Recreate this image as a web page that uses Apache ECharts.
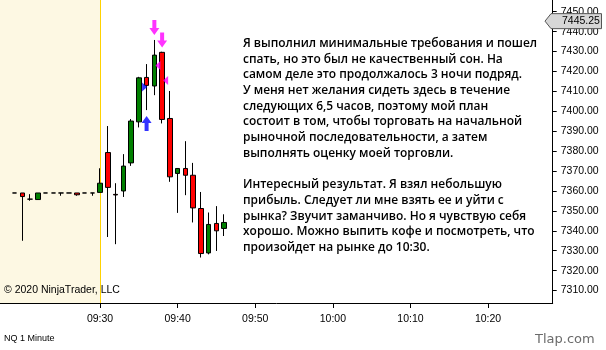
<!DOCTYPE html>
<html><head><meta charset="utf-8">
<script src="https://cdn.jsdelivr.net/npm/echarts@6/dist/echarts.min.js"></script>
<style>html,body{margin:0;padding:0;background:#fff}#c{width:606px;height:350px}</style>
</head><body><div id="c"></div>
<script>
// ---- data ----
const times  = ['09:19','09:20','09:21','09:22','09:23','09:24','09:25','09:26','09:27','09:28','09:29',
                '09:30','09:31','09:32','09:33','09:34','09:35','09:36','09:37','09:38','09:39','09:40',
                '09:41','09:42','09:43','09:44','09:45','09:46'];
const opens  = [7359.0,7359.0,7355.9,7355.7,7359.0,7359.0,7359.0,7359.0,7359.0,7359.0,7359.0,
                7359.3,7379.3,7358.3,7360.0,7374.1,7394.7,7417.0,7412.7,7429.6,7396.4,7368.8,
                7371.3,7367.9,7351.2,7328.9,7343.7,7341.2];
const closes = [7359.0,7357.2,7355.9,7359.0,7359.0,7359.0,7359.0,7359.0,7358.1,7359.0,7359.0,
                7363.9,7361.8,7358.0,7372.5,7395.1,7416.8,7413.0,7428.2,7395.9,7367.1,7371.3,
                7367.9,7351.5,7328.6,7343.2,7340.0,7344.2];
const lows   = [7359.0,7335.0,7355.1,7355.7,7359.0,7359.0,7357.6,7359.0,7357.6,7359.0,7357.6,
                7359.3,7336.9,7333.3,7357.0,7372.6,7391.9,7400.6,7408.1,7393.9,7364.6,7349.0,
                7357.9,7344.2,7326.6,7328.2,7329.9,7337.4];
const highs  = [7359.0,7359.0,7358.4,7359.0,7359.0,7359.0,7359.0,7359.0,7359.0,7359.0,7359.0,
                7371.4,7392.6,7363.9,7378.5,7396.1,7417.3,7423.7,7435.8,7429.9,7410.2,7371.5,
                7385.0,7374.1,7359.5,7349.2,7352.4,7348.3];
const yTicks = [7310,7320,7330,7340,7350,7360,7370,7380,7390,7400,7410,7420,7430,7440,7450];
const xTicks = ['09:30','09:40','09:50','10:00','10:10','10:20'];
const sessionStart = '09:30';
const lastPrice = 7445.25;
const sellArrowTimes = ['09:37','09:38'];
const sellArrowPrices = [7442.1, 7435.8];
const buyArrowTimes = ['09:36'];
const buyArrowPrices = [7393.9];
const entryTimes = ['09:36'];
const entryPrices = [7412.2];
const exitTimes = ['09:37','09:38'];
const exitPrices = [7423.0, 7415.5];
const noteLines = [
  'Я выполнил минимальные требования и пошел',
  'спать, но это был не качественный сон. На',
  'самом деле это продолжалось 3 ночи подряд.',
  'У меня нет желания сидеть здесь в течение',
  'следующих 6,5 часов, поэтому мой план',
  'состоит в том, чтобы торговать на начальной',
  'рыночной последовательности, а затем',
  'выполнять оценку моей торговли.',
  '',
  'Интересный результат. Я взял небольшую',
  'прибыль. Следует ли мне взять ее и уйти с',
  'рынка? Звучит заманчиво. Но я чувствую себя',
  'хорошо. Можно выпить кофе и посмотреть, что',
  'произойдет на рынке до 10:30.'
];
const copyright = '© 2020 NinjaTrader, LLC';
const instrument = 'NQ 1 Minute';
const watermark = 'Tlap.com';

// ---- helpers ----
const toMin = t => { const p = t.split(':'); return (+p[0]) * 60 + (+p[1]); };
const fmtTime = m => String(Math.floor(m / 60)).padStart(2, '0') + ':' + String(Math.round(m % 60)).padStart(2, '0');
const xMin = 557.11, xMax = 628.33;
const yMin = 7303.77, yMax = 7455.87;
const FONT = 'Liberation Sans, Arial, sans-serif';
const NOTE_FONT = '"Open Sans", "DejaVu Sans", sans-serif';
const NOTE_WEIGHT = 600;

// fit note font size so that the first four lines span ~1101px in total (as in the reference)
const ctx = document.createElement('canvas').getContext('2d');
ctx.font = NOTE_WEIGHT + ' 100px ' + NOTE_FONT;
let w100 = 0; for (let i = 0; i < 4; i++) w100 += ctx.measureText(noteLines[i]).width;
const noteSize = Math.max(10, Math.min(14, 100 * 1101 / w100));

const candleData = times.map((t, i) => [toMin(t), opens[i], closes[i], lows[i], highs[i]]);
const pts = (ts, ps) => ts.map((t, i) => [toMin(t), ps[i]]);

const chart = echarts.init(document.getElementById('c'), null, { renderer: 'canvas' });
chart.setOption({
  animation: false,
  backgroundColor: '#fff',
  grid: { left: 0, top: 0, right: 53.3, bottom: 47, containLabel: false },
  xAxis: {
    type: 'value', min: xMin, max: xMax,
    splitLine: { show: false },
    axisLine: { show: true, lineStyle: { color: '#000', width: 1 } },
    axisTick: { show: true, customValues: xTicks.map(toMin), length: 5, lineStyle: { color: '#000' } },
    axisLabel: { customValues: xTicks.map(toMin), formatter: v => fmtTime(v), margin: 11,
                 color: '#000', fontFamily: FONT, fontSize: 10.5 }
  },
  yAxis: {
    type: 'value', position: 'right', min: yMin, max: yMax, scale: true,
    splitLine: { show: false },
    axisLine: { show: true, lineStyle: { color: '#000', width: 1 } },
    axisTick: { show: true, customValues: yTicks, length: 4, lineStyle: { color: '#000' } },
    axisLabel: { customValues: yTicks, formatter: v => v.toFixed(2), margin: 8,
                 color: '#000', fontFamily: FONT, fontSize: 10.5 }
  },
  series: [
    {
      type: 'candlestick',
      data: candleData,
      barWidth: 5,
      z: 2,
      itemStyle: { color: '#008000', color0: '#ff0000', borderColor: '#000', borderColor0: '#000',
                   borderColorDoji: '#000', borderWidth: 1 },
      markArea: {
        silent: true, z: 0,
        itemStyle: { color: '#fdf8e3' },
        data: [[{ xAxis: xMin }, { xAxis: toMin(sessionStart) }]]
      },
      markLine: {
        silent: true, z: 1, symbol: 'none', label: { show: false },
        lineStyle: { color: '#ffd200', type: 'solid', width: 1 },
        data: [{ xAxis: toMin(sessionStart) }]
      }
    },
    {
      type: 'scatter', z: 4, silent: true,
      data: pts(sellArrowTimes, sellArrowPrices),
      symbol: 'path://M3,0 L7,0 L7,8 L10,8 L5,15 L0,8 L3,8 Z',
      symbolSize: [10, 15],
      itemStyle: { color: '#ff00ff' }
    },
    {
      type: 'scatter', z: 4, silent: true,
      data: pts(buyArrowTimes, buyArrowPrices),
      symbol: 'path://M5,0 L10,7 L7,7 L7,15 L3,15 L3,7 L0,7 Z',
      symbolSize: [10, 15],
      itemStyle: { color: '#0000ff' }
    },
    {
      type: 'scatter', z: 4, silent: true,
      data: pts(entryTimes, entryPrices),
      symbol: 'path://M0,0 L1,0.5 L0,1 Z',
      symbolSize: [5, 9], symbolOffset: [-2, 0],
      itemStyle: { color: '#0000ff' }
    },
    {
      type: 'scatter', z: 4, silent: true,
      data: pts(exitTimes, exitPrices),
      symbol: 'path://M1,0 L0,0.5 L1,1 Z',
      symbolSize: [5, 9], symbolOffset: [3.5, 0],
      itemStyle: { color: '#ff00ff' }
    }
  ]
});

const py = chart.convertToPixel({ yAxisIndex: 0 }, lastPrice);
chart.setOption({
  graphic: [
    {
      type: 'polygon', z: 100,
      shape: { points: [[545, py], [551, py - 7.5], [601.5, py - 7.5], [601.5, py + 7.5], [551, py + 7.5]] },
      style: { fill: '#d6d6d6', stroke: '#555', lineWidth: 1 }
    },
    {
      type: 'text', z: 101, x: 562, y: py,
      style: { text: lastPrice.toFixed(2), fill: '#000', fontFamily: FONT, fontSize: 10.5,
               verticalAlign: 'middle', align: 'left' }
    },
    {
      type: 'text', z: 100, x: 243, y: 35.6,
      style: { text: noteLines.join('\n'), fill: '#000', fontFamily: NOTE_FONT, fontWeight: NOTE_WEIGHT,
               fontSize: noteSize, lineHeight: 15.7, verticalAlign: 'top', align: 'left' }
    },
    {
      type: 'text', z: 100, x: 4, y: 290,
      style: { text: copyright, fill: '#000', fontFamily: FONT, fontSize: 10.5,
               verticalAlign: 'middle', align: 'left' }
    },
    {
      type: 'text', z: 100, x: 4, y: 339,
      style: { text: instrument, fill: '#000', fontFamily: FONT, fontSize: 9,
               verticalAlign: 'middle', align: 'left' }
    },
    {
      type: 'text', z: 100, x: 535, y: 340,
      style: { text: watermark, fill: '#6b6b6b', fontFamily: 'DejaVu Sans', fontSize: 13,
               verticalAlign: 'middle', align: 'left' }
    }
  ]
});
</script>
</body></html>
